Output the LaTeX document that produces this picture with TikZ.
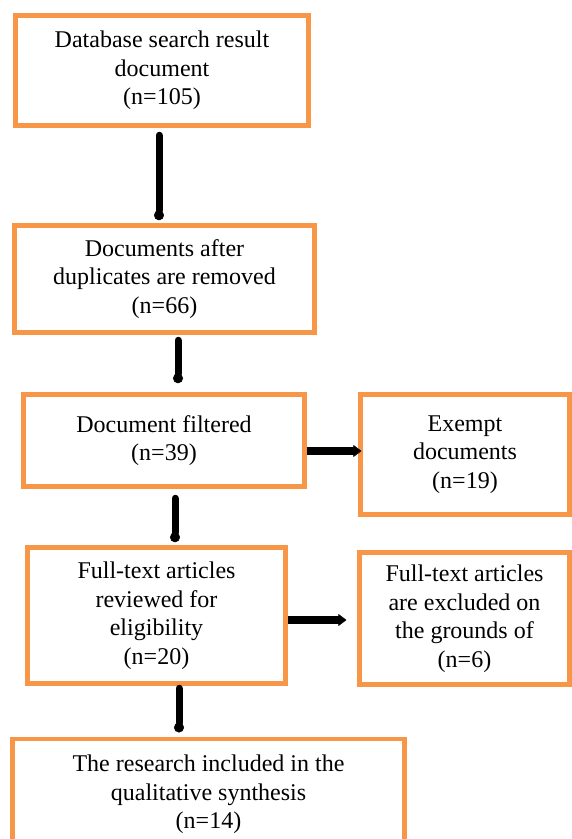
\documentclass[tikz,border=0pt]{standalone}
\usepackage{fontspec}
\setmainfont{Liberation Serif}
\usetikzlibrary{arrows.meta}
\definecolor{boxorange}{RGB}{247,150,70}
\begin{document}
\begin{tikzpicture}[x=1pt,y=-1pt,
  fbox/.style={draw=boxorange, line width=4.5pt, fill=white, align=center, inner sep=0pt,
    font=\fontsize{24}{28.5}\selectfont},
  varrow/.style={line width=7pt, line cap=round, -{Circle[length=10pt,width=10pt,line width=0.5pt]}},
  harrow/.style={line width=7.5pt, -{Triangle[length=8pt,width=12pt,line width=0.5pt,round]}}]
\clip (0,0) rectangle (572,839);
\fill[white] (0,0) rectangle (572,839);

\node[fbox, minimum width=293pt, minimum height=110pt] (b1) at (162,70.5) {Database search result\\document\\(n=105)};
\node[fbox, minimum width=300pt, minimum height=107pt] (b2) at (164.5,279) {Documents after\\duplicates are removed\\(n=66)};
\node[fbox, minimum width=281pt, minimum height=92pt] (b3) at (164,440.5) {Document filtered\\(n=39)};
\node[fbox, minimum width=209pt, minimum height=120pt] (ex) at (465,454.5) {Exempt\\documents\\(n=19)};
\node[fbox, minimum width=258pt, minimum height=136pt] (b5) at (156.5,615.5) {Full-text articles\\reviewed for\\eligibility\\(n=20)};
\node[fbox, minimum width=210pt, minimum height=132pt] (r6) at (464.5,618.5) {Full-text articles\\are excluded on\\the grounds of\\(n=6)};
\node[fbox, minimum width=392pt, minimum height=111pt, anchor=north] (b6) at (208.5,736.5) {The research included in the\\qualitative synthesis\\(n=14)};

\coordinate (x1) at (159,0);
\coordinate (x2) at (178,0);
\coordinate (x3) at (175,0);
\coordinate (x4) at (179,0);
\coordinate (y1) at (0,451);
\coordinate (y2) at (0,620);

\draw[varrow, shorten <=7.5pt, shorten >=3pt] (b1.south -| x1) -- (b2.north -| x1);
\draw[varrow, shorten <=5.5pt, shorten >=9pt] (b2.south -| x2) -- (b3.north -| x2);
\draw[varrow, shorten <=9.5pt, shorten >=3pt] (b3.south -| x3) -- (b5.north -| x3);
\draw[varrow, shorten <=2.5pt, shorten >=4pt] (b5.south -| x4) -- (b6.north -| x4);

\draw[harrow, shorten >=-3pt] (b3.east |- y1) -- (ex.west |- y1);
\draw[harrow, shorten >=11pt] (b5.east |- y2) -- (r6.west |- y2);
\end{tikzpicture}
\end{document}
